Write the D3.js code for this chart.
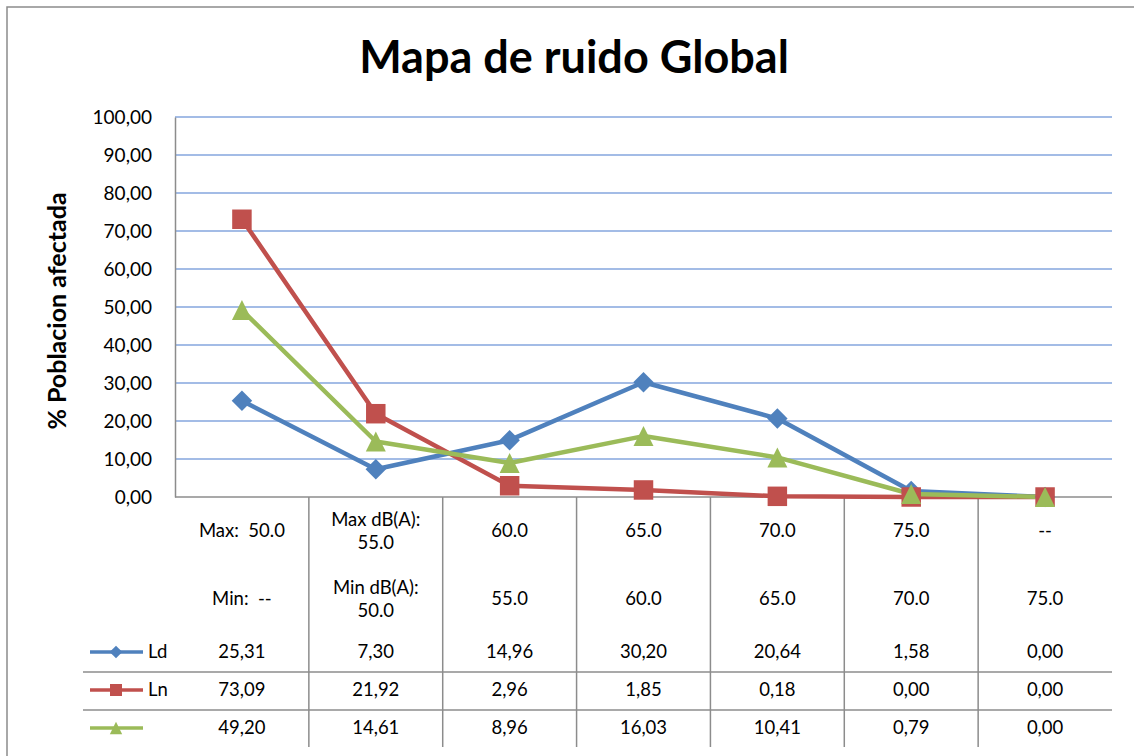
<!DOCTYPE html>
<html>
<head>
<meta charset="utf-8">
<script src="https://cdn.jsdelivr.net/npm/d3@7"></script>
<style>
  body { margin: 0; background: #fff; }
  svg { font-family: Lato, "Open Sans", sans-serif; }
  text { white-space: pre; }
</style>
</head>
<body>
<svg id="chart" width="1134" height="756"></svg>
<script>
// Data
const categories = ['c1', 'c2', 'c3', 'c4', 'c5', 'c6', 'c7'];
const maxLabels = [['Max:  50.0'], ['Max dB(A):', '55.0'], ['60.0'], ['65.0'], ['70.0'], ['75.0'], ['--']];
const minLabels = [['Min:  --'], ['Min dB(A):', '50.0'], ['55.0'], ['60.0'], ['65.0'], ['70.0'], ['75.0']];
const ldValues = [25.31, 7.30, 14.96, 30.20, 20.64, 1.58, 0.00];
const lnValues = [73.09, 21.92, 2.96, 1.85, 0.18, 0.00, 0.00];
const lgValues = [49.20, 14.61, 8.96, 16.03, 10.41, 0.79, 0.00];
const seriesNames = ['Ld', 'Ln', ''];
const yTicks = [0, 10, 20, 30, 40, 50, 60, 70, 80, 90, 100];

// excel-style markers: square rotated, square, triangle as tall as wide
const symDiamond = {
    draw(ctx, size) {
        const r = Math.sqrt(size) / 2;
        ctx.moveTo(0, -r); ctx.lineTo(r, 0); ctx.lineTo(0, r); ctx.lineTo(-r, 0); ctx.closePath();
    }
};
const symTriangle = {
    draw(ctx, size) {
        const r = Math.sqrt(size) / 2;
        ctx.moveTo(0, -r); ctx.lineTo(r, r); ctx.lineTo(-r, r); ctx.closePath();
    }
};

const series = [
    { name: seriesNames[0], values: ldValues, color: '#4F81BD', symbol: symDiamond, size: 420 },
    { name: seriesNames[1], values: lnValues, color: '#C0504D', symbol: d3.symbolSquare, size: 380 },
    { name: seriesNames[2], values: lgValues, color: '#9BBB59', symbol: symTriangle, size: 400 }
];

const fmt = v => v.toFixed(2).replace('.', ',');

const svg = d3.select('#chart');

// Plot area
const plotLeft = 175, plotRight = 1112, plotTop = 117, plotBottom = 497;

const x = d3.scaleBand().domain(categories).range([plotLeft, plotRight]);
const y = d3.scaleLinear().domain([0, 100]).range([plotBottom, plotTop]);
const cx = i => x(categories[i]) + x.bandwidth() / 2;

// Outer frame
svg.append('path')
    .attr('d', 'M7,756 L7,7 L1134,7')
    .attr('fill', 'none')
    .attr('stroke', '#8c8c8c')
    .attr('stroke-width', 1.5);

// Title
svg.append('text')
    .attr('x', 574).attr('y', 73)
    .attr('text-anchor', 'middle')
    .attr('font-size', 45).attr('font-weight', 'bold')
    .text('Mapa de ruido Global');

// Gridlines
svg.append('g')
    .selectAll('line')
    .data(yTicks.filter(d => d > 0))
    .join('line')
    .attr('x1', plotLeft).attr('x2', plotRight)
    .attr('y1', d => y(d)).attr('y2', d => y(d))
    .attr('stroke', '#A3BCE6')
    .attr('stroke-width', 2);

// Y axis
const yAxis = svg.append('g')
    .attr('transform', `translate(${plotLeft},0)`)
    .call(d3.axisLeft(y).tickValues(yTicks).tickFormat(fmt).tickSize(0).tickPadding(23));
yAxis.select('.domain').attr('stroke', '#8c8c8c').attr('stroke-width', 1.5);
yAxis.selectAll('text').attr('font-size', 19).attr('fill', '#000').attr('font-family', 'Lato, sans-serif');

svg.append('text')
    .attr('transform', `translate(66,${(plotTop + plotBottom) / 2 + 4}) rotate(-90)`)
    .attr('text-anchor', 'middle')
    .attr('font-size', 25).attr('font-weight', 'bold')
    .text('% Poblacion afectada');

// X axis baseline
svg.append('line')
    .attr('x1', plotLeft).attr('x2', plotRight)
    .attr('y1', plotBottom).attr('y2', plotBottom)
    .attr('stroke', '#8c8c8c').attr('stroke-width', 1.5);

// Data table
const tableBottom = 747;
const rowY = [672, 710];
const table = svg.append('g');
const fs = 18.5;

table.selectAll('line.v')
    .data(categories.slice(1))
    .join('line')
    .attr('class', 'v')
    .attr('x1', d => x(d)).attr('x2', d => x(d))
    .attr('y1', plotBottom).attr('y2', tableBottom)
    .attr('stroke', '#8c8c8c').attr('stroke-width', 1.5);

table.selectAll('line.h')
    .data(rowY)
    .join('line')
    .attr('class', 'h')
    .attr('x1', 83).attr('x2', plotRight)
    .attr('y1', d => d).attr('y2', d => d)
    .attr('stroke', '#8c8c8c').attr('stroke-width', 1.5);

function headerRow(labels, cy) {
    labels.forEach((lines, i) => {
        const t = table.append('text')
            .attr('text-anchor', 'middle')
            .attr('font-size', fs);
        const start = cy - (lines.length - 1) * 11.5;
        lines.forEach((s, j) => {
            t.append('tspan').attr('x', cx(i)).attr('y', start + j * 23 + 6).text(s);
        });
    });
}
headerRow(maxLabels, 531);
headerRow(minLabels, 599);

const valueRowY = [652, 690, 728];
series.forEach((s, k) => {
    const cy = valueRowY[k];
    table.append('g').selectAll('text')
        .data(s.values)
        .join('text')
        .attr('x', (d, i) => cx(i))
        .attr('y', cy + 6)
        .attr('text-anchor', 'middle')
        .attr('font-size', fs)
        .text(fmt);

    // Legend key
    table.append('line')
        .attr('x1', 90).attr('x2', 143)
        .attr('y1', cy).attr('y2', cy)
        .attr('stroke', s.color).attr('stroke-width', 3.5);
    table.append('path')
        .attr('d', d3.symbol().type(s.symbol).size(s.size * 0.38)())
        .attr('transform', `translate(116,${cy})`)
        .attr('fill', s.color);
    table.append('text')
        .attr('x', 148).attr('y', cy + 6)
        .attr('font-size', fs)
        .text(s.name);
});

// Lines and markers
const line = d3.line()
    .x((d, i) => cx(i))
    .y(d => y(d));

series.forEach(s => {
    svg.append('path')
        .datum(s.values)
        .attr('d', line)
        .attr('fill', 'none')
        .attr('stroke', s.color)
        .attr('stroke-width', 4.5)
        .attr('stroke-linejoin', 'round');
});

series.forEach(s => {
    svg.append('g').selectAll('path')
        .data(s.values)
        .join('path')
        .attr('d', d3.symbol().type(s.symbol).size(s.size))
        .attr('transform', (d, i) => `translate(${cx(i)},${y(d)})`)
        .attr('fill', s.color);
});
</script>
</body>
</html>
